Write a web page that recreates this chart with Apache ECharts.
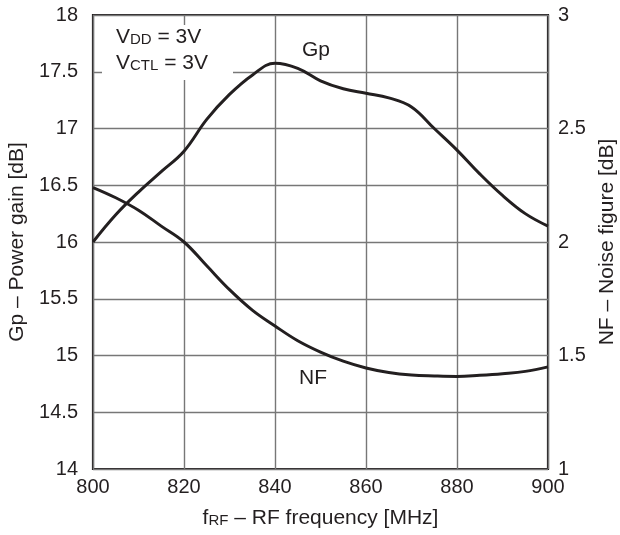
<!DOCTYPE html>
<html>
<head>
<meta charset="utf-8">
<script src="https://cdn.jsdelivr.net/npm/echarts@6/dist/echarts.min.js"></script>
<style>
  html, body { margin: 0; padding: 0; background: #fff; }
  #chart { width: 620px; height: 535px; }
</style>
</head>
<body>
<div id="chart"></div>
<script>
// frequency points [MHz]
const freq = [800, 805, 810, 815, 820, 825, 830, 835, 840, 845, 850, 855, 860, 865, 870, 875, 880, 885, 890, 895, 900];
// Gp - power gain [dB], left axis
const gp = [16.0, 16.24, 16.44, 16.62, 16.8, 17.08, 17.3, 17.47, 17.575, 17.53, 17.42, 17.35, 17.31, 17.27, 17.19, 17.0, 16.81, 16.6, 16.41, 16.25, 16.14];
// NF - noise figure [dB], right axis
const nf = [2.24, 2.195, 2.14, 2.07, 2.0, 1.895, 1.79, 1.70, 1.63, 1.565, 1.515, 1.475, 1.445, 1.425, 1.414, 1.41, 1.408, 1.413, 1.42, 1.43, 1.45];

const font = "Liberation Sans, Arial, sans-serif";
const ink = "#231f20";
const grid = "#777777";
const fs = 21;
const tfs = 20;

const chart = echarts.init(document.getElementById("chart"));

const sub = { fontSize: 15, fontFamily: font, color: ink, fill: ink, padding: [4, 0, 0, 0] };
const big = { fontSize: fs, fontFamily: font, color: ink, fill: ink };

const option = {
  animation: false,
  textStyle: { fontFamily: font, color: ink },
  grid: {
    left: 93, right: 72, top: 15, bottom: 66,
    outerBoundsMode: "none", containLabel: false,
    show: true, borderColor: ink, borderWidth: 2.2, backgroundColor: "transparent",
  },
  xAxis: {
    type: "value",
    min: 800,
    max: 900,
    interval: 20,
    name: "{f|f}{s|RF}{f| – RF frequency [MHz]}",
    nameLocation: "middle",
    nameGap: 39,
    nameTextStyle: { rich: { f: big, s: sub } },
    axisLine: { show: false },
    axisTick: { show: false },
    axisLabel: { fontSize: tfs, color: ink, margin: 8, fontFamily: font },
    splitLine: { lineStyle: { color: grid, width: 1.4 } },
  },
  yAxis: [
    {
      type: "value",
      min: 14,
      max: 18,
      interval: 0.5,
      name: "Gp – Power gain [dB]",
      nameLocation: "middle",
      nameRotate: 90,
      nameGap: 61,
      nameTextStyle: { fontSize: fs, color: ink, fontFamily: font },
      axisLine: { show: false },
      axisTick: { show: false },
      axisLabel: { fontSize: tfs, color: ink, margin: 15, fontFamily: font },
      splitLine: { lineStyle: { color: grid, width: 1.4 } },
    },
    {
      type: "value",
      min: 1,
      max: 3,
      interval: 0.25,
      position: "right",
      name: "NF – Noise figure [dB]",
      nameLocation: "middle",
      nameRotate: 90,
      nameGap: 49,
      nameTextStyle: { fontSize: fs, color: ink, fontFamily: font },
      axisLine: { show: false },
      axisTick: { show: false },
      axisLabel: {
        fontSize: tfs, color: ink, margin: 10, fontFamily: font,
        formatter: (v) => (Math.abs(v * 2 - Math.round(v * 2)) < 1e-9 ? String(v) : ""),
      },
      splitLine: { show: false },
    },
  ],
  series: [
    {
      name: "Gp",
      type: "line",
      yAxisIndex: 0,
      data: freq.map((f, i) => [f, gp[i]]),
      smooth: 0.4,
      showSymbol: false,
      lineStyle: { color: ink, width: 3 },
    },
    {
      name: "NF",
      type: "line",
      yAxisIndex: 1,
      data: freq.map((f, i) => [f, nf[i]]),
      smooth: 0.4,
      showSymbol: false,
      lineStyle: { color: ink, width: 3 },
    },
  ],
  graphic: [
    { type: "rect", left: 102, top: 25, shape: { width: 131, height: 55 }, style: { fill: "#fff" }, z: 50 },
    {
      type: "text", left: 116, top: 27, z: 60,
      style: { text: "{v|V}{s|DD}{v| = 3V}", rich: { v: big, s: sub } },
    },
    {
      type: "text", left: 116, top: 53, z: 60,
      style: { text: "{v|V}{s|CTL}{v| = 3V}", rich: { v: big, s: sub } },
    },
    { type: "text", left: 302, top: 40, z: 60, style: { text: "Gp", fontSize: fs, fontFamily: font, fill: ink } },
    { type: "text", left: 299, top: 368, z: 60, style: { text: "NF", fontSize: fs, fontFamily: font, fill: ink } },
  ],
};

chart.setOption(option);
</script>
</body>
</html>
